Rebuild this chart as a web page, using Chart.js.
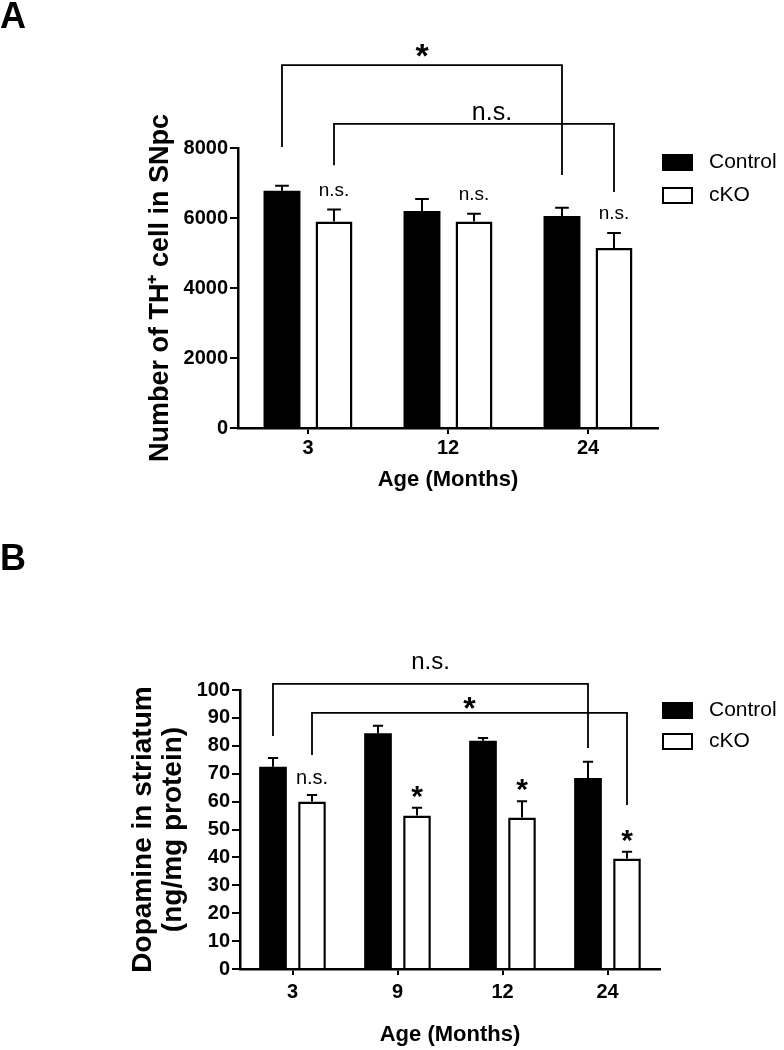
<!DOCTYPE html>
<html>
<head>
<meta charset="utf-8">
<script src="https://cdn.jsdelivr.net/npm/chart.js@4.4.1/dist/chart.umd.min.js"></script>
<style>
  body { margin: 0; background: #fff; }
  canvas { display: block; }
</style>
</head>
<body>
<canvas id="chart-a" width="784" height="525"></canvas>
<canvas id="chart-b" width="784" height="525"></canvas>
<script>
// Panel A: TH+ cells in SNpc
const agesA = ['3', '12', '24'];
const controlA = [6780, 6200, 6060];
const controlErrA = [140, 340, 230];
const ckoA = [5900, 5900, 5140];
const ckoErrA = [340, 220, 430];
const ckoMarksA = ['n.s.', 'n.s.', 'n.s.'];

// Panel B: dopamine in striatum
const agesB = ['3', '9', '12', '24'];
const controlB = [72.5, 84.5, 81.8, 68.5];
const controlErrB = [3.1, 2.7, 1.0, 5.8];
const ckoB = [60, 55, 54.3, 39.6];
const ckoErrB = [2.4, 2.8, 5.8, 2.4];
const ckoMarksB = ['n.s.', '*', '*', '*'];

// comparison brackets (dataset, first/last category, heights in axis units)
const bracketsA = [
  { ds: 0, from: 0, to: 2, top: 10370, legs: [8030, 7230], text: '*' },
  { ds: 1, from: 0, to: 2, top: 8690, legs: [7510, 6740], text: 'n.s.' }
];
const bracketsB = [
  { ds: 0, from: 0, to: 3, top: 102.2, legs: [83.5, 79.2], text: 'n.s.' },
  { ds: 1, from: 0, to: 3, top: 91.8, legs: [76.7, 58.8], text: '*' }
];

const FONT = 'Arial, "Liberation Sans", sans-serif';
Chart.defaults.font.family = FONT;
Chart.defaults.color = '#000';

function centerText(ctx, text, x, cy, font) {
  ctx.font = font;
  const m = ctx.measureText(text);
  ctx.textAlign = 'center';
  ctx.textBaseline = 'alphabetic';
  ctx.fillText(text, x, cy + (m.actualBoundingBoxAscent - m.actualBoundingBoxDescent) / 2);
}

const extras = {
  id: 'extras',
  afterDatasetsDraw(chart, args, opts) {
    const ctx = chart.ctx;
    const y = chart.scales.y;
    ctx.save();
    ctx.strokeStyle = '#000';
    ctx.fillStyle = '#000';

    // upper error bars + marks over bars
    chart.data.datasets.forEach((ds, i) => {
      chart.getDatasetMeta(i).data.forEach((bar, j) => {
        const top = y.getPixelForValue(ds.data[j] + ds.errors[j]);
        const cap = bar.width * opts.capRatio;
        ctx.lineWidth = 2;
        ctx.beginPath();
        ctx.moveTo(bar.x, bar.y);
        ctx.lineTo(bar.x, top);
        ctx.moveTo(bar.x - cap / 2, top);
        ctx.lineTo(bar.x + cap / 2, top);
        ctx.stroke();
        const mark = ds.marks && ds.marks[j];
        if (mark) {
          centerText(ctx, mark, bar.x, top - opts.markGap, mark === '*' ? opts.starFont : opts.nsFont);
        }
      });
    });

    // brackets
    ctx.lineWidth = 1.8;
    opts.brackets.forEach((b, k) => {
      const bars = chart.getDatasetMeta(b.ds).data;
      const x1 = bars[b.from].x, x2 = bars[b.to].x;
      const yt = y.getPixelForValue(b.top);
      ctx.beginPath();
      ctx.moveTo(x1, y.getPixelForValue(b.legs[0]));
      ctx.lineTo(x1, yt);
      ctx.lineTo(x2, yt);
      ctx.lineTo(x2, y.getPixelForValue(b.legs[1]));
      ctx.stroke();
      const off = opts.bracketLabel[k];
      centerText(ctx, b.text, (x1 + x2) / 2 + off[0], yt - off[1],
        b.text === '*' ? opts.bracketStarFont : opts.bracketNsFont);
    });

    // legend
    const lg = opts.legend;
    chart.data.datasets.forEach((ds, i) => {
      const top = lg.top + i * lg.step;
      ctx.fillStyle = ds.backgroundColor;
      ctx.fillRect(lg.x, top, lg.w, lg.h);
      ctx.lineWidth = 2;
      ctx.strokeRect(lg.x + 1, top + 1, lg.w - 2, lg.h - 2);
      ctx.fillStyle = '#000';
      ctx.font = '21px ' + FONT;
      ctx.textAlign = 'left';
      ctx.textBaseline = 'middle';
      ctx.fillText(ds.label, lg.x + lg.w + 16, top + lg.h / 2);
    });
    ctx.restore();
  }
};

function makeChart(id, p) {
  return new Chart(document.getElementById(id), {
    type: 'bar',
    data: {
      labels: p.labels,
      datasets: [
        { label: 'Control', data: p.control, errors: p.controlErr,
          backgroundColor: '#000', borderColor: '#000', borderWidth: 0 },
        { label: 'cKO', data: p.cko, errors: p.ckoErr, marks: p.ckoMarks,
          backgroundColor: '#fff', borderColor: '#000', borderWidth: 2.5 }
      ]
    },
    options: {
      responsive: false,
      animation: false,
      categoryPercentage: 0.743,
      barPercentage: 0.71,
      layout: { padding: { left: 0, right: p.padRight, top: 0, bottom: 0 } },
      plugins: {
        legend: { display: false },
        tooltip: { enabled: false },
        title: {
          display: true, text: p.letter, align: 'start', color: '#000',
          font: { size: 36, weight: 'bold', lineHeight: 1 },
          padding: { top: p.letterTop, bottom: 112 }
        },
        extras: p.extras
      },
      scales: {
        x: {
          border: { color: '#000', width: 2.5 },
          grid: { offset: false, drawOnChartArea: false, tickLength: 6, color: '#000', lineWidth: 2 },
          ticks: { color: '#000', padding: p.xTickPad, font: { size: 20, weight: 'bold' } },
          title: {
            display: true, text: 'Age (Months)', color: '#000',
            font: { size: 22, weight: 'bold', lineHeight: 1.2 },
            padding: { top: 0, bottom: p.xTitlePad }
          },
          afterFit: s => { s.height = p.xHeight; }
        },
        y: {
          min: 0, max: p.yMax,
          border: { color: '#000', width: 2.5 },
          grid: { drawOnChartArea: false, tickLength: 8, color: '#000', lineWidth: 2 },
          ticks: {
            stepSize: p.yStep, color: '#000', padding: 2,
            font: { size: 20, weight: 'bold' },
            callback: v => String(v)
          },
          title: {
            display: true, text: p.yTitle, color: '#000',
            font: { size: p.yTitleSize, weight: 'bold', lineHeight: p.yTitleLH },
            padding: { top: p.yTitlePad, bottom: 0 }
          },
          afterFit: s => { s.width = p.yWidth; }
        }
      }
    },
    plugins: [extras]
  });
}

makeChart('chart-a', {
  labels: agesA, control: controlA, controlErr: controlErrA,
  cko: ckoA, ckoErr: ckoErrA, ckoMarks: ckoMarksA,
  letter: 'A', letterTop: 0, padRight: 126,
  xHeight: 97, xTickPad: 2, xTitlePad: 31.8,
  yWidth: 238, yMax: 8000, yStep: 2000,
  yTitle: 'Number of TH\u207A cell in SNpc', yTitleSize: 27, yTitleLH: 1.2, yTitlePad: 144,
  extras: {
    capRatio: 0.37, markGap: 19,
    starFont: 'bold 30px ' + FONT, nsFont: '19px ' + FONT,
    brackets: bracketsA, bracketLabel: [[0, 15], [18, 11]],
    bracketStarFont: 'bold 34px ' + FONT, bracketNsFont: '25px ' + FONT,
    legend: { x: 662, top: 154, step: 33, w: 31, h: 17 }
  }
});

makeChart('chart-b', {
  labels: agesB, control: controlB, controlErr: controlErrB,
  cko: ckoB, ckoErr: ckoErrB, ckoMarks: ckoMarksB,
  letter: 'B', letterTop: 17, padRight: 124,
  xHeight: 81, xTickPad: 5, xTitlePad: 1.8,
  yWidth: 240, yMax: 100, yStep: 10,
  yTitle: ['Dopamine in striatum', '(ng/mg protein)'], yTitleSize: 28, yTitleLH: 1.1, yTitlePad: 127.5,
  extras: {
    capRatio: 0.37, markGap: 16,
    starFont: 'bold 30px ' + FONT, nsFont: '20px ' + FONT,
    brackets: bracketsB, bracketLabel: [[0, 21], [0, 10]],
    bracketStarFont: 'bold 32px ' + FONT, bracketNsFont: '24px ' + FONT,
    legend: { x: 662, top: 177, step: 31, w: 31, h: 17 }
  }
});
</script>
</body>
</html>
